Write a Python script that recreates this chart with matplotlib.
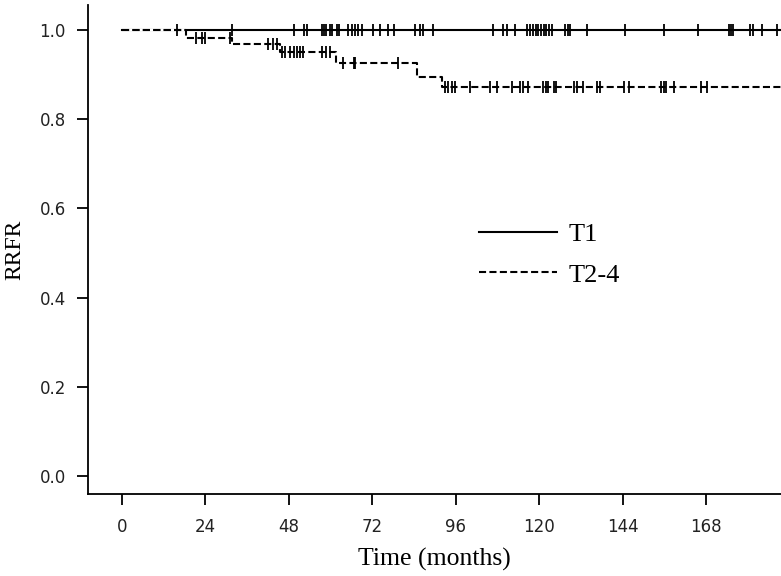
import numpy as np
import matplotlib
matplotlib.use("Agg")
import matplotlib.pyplot as plt
from matplotlib.lines import Line2D

# ---- data ----
t1_censor = [15.7, 31.6, 49.6, 52.3, 53.1, 57.5, 58.0, 58.8, 59.8, 60.4, 61.8, 62.5,
             65.1, 66.1, 67.1, 68.0, 69.0, 72.3, 74.3, 76.4, 78.3, 84.3, 85.7, 86.7,
             89.6, 106.8, 109.5, 110.9, 113.2, 116.5, 117.5, 118.3, 119.0, 119.8,
             120.5, 121.3, 122.0, 122.8, 123.6, 127.5, 128.2, 128.9, 133.7, 144.7,
             155.9, 165.8, 174.5, 175.2, 175.9, 180.7, 181.6, 184.1, 188.4]
t1_event_times = [0.0]
t1_surv = [1.0]

t24_event_times = [0.0, 18.4, 31.5, 45.5, 61.5, 85.0, 92.0]
t24_surv = [1.0, 0.983, 0.968, 0.951, 0.926, 0.895, 0.873]
t24_censor = [21.2, 22.9, 23.9, 31.0, 42.1, 43.5, 44.7, 46.0, 46.9, 48.3, 49.5, 50.3,
              51.2, 52.0, 57.5, 58.7, 59.9, 63.7, 66.6, 67.1, 79.5, 93.0, 93.9, 94.9,
              95.8, 100.1, 105.9, 107.8, 112.1, 114.5, 115.5, 116.9, 121.2, 122.0,
              122.7, 124.3, 125.0, 129.9, 130.8, 132.7, 136.8, 137.4, 144.5, 146.0,
              155.0, 155.8, 156.4, 158.9, 166.5, 168.2]
follow_end = 192.0

x_ticks = [0, 24, 48, 72, 96, 120, 144, 168]
y_ticks = [0.0, 0.2, 0.4, 0.6, 0.8, 1.0]
labels = ["T1", "T2-4"]

serif = ["Liberation Serif", "DejaVu Serif"]
sans = ["DejaVu Sans"]

fig = plt.figure(figsize=(7.81, 5.76), dpi=100)
ax = fig.add_axes([88 / 781, 1 - 494 / 576, 1 - 88 / 781, (494 - 5) / 576])


def step_xy(times, surv, end):
    x = list(times) + [end]
    y = list(surv) + [surv[-1]]
    return np.array(x), np.array(y)


def surv_at(times, surv, t):
    idx = np.searchsorted(np.array(times), np.array(t), side="right") - 1
    return np.array(surv)[idx]


lw = 1.5
x1, y1 = step_xy(t1_event_times, t1_surv, follow_end)
ax.step(x1, y1, where="post", color="black", lw=lw, zorder=2)
ax.plot(t1_censor, surv_at(t1_event_times, t1_surv, t1_censor), ls="none",
        marker="|", ms=8.5, mew=1.3, color="black", zorder=2)

x2, y2 = step_xy(t24_event_times, t24_surv, follow_end)
ax.step(x2, y2, where="post", color="black", lw=lw, ls=(0, (3.4, 1.6)),
        gapcolor="white", zorder=3)
ax.plot(t24_censor, surv_at(t24_event_times, t24_surv, t24_censor), ls="none",
        marker="|", ms=8.5, mew=1.3, color="black", zorder=4)

ax.set_xlim(-9.8, 189.6)
ax.set_ylim(-0.0404, 1.0561)
ax.set_xticks(x_ticks)
ax.set_yticks(y_ticks)
ax.set_yticklabels([f"{v:.1f}" for v in y_ticks])
for s in ["top", "right"]:
    ax.spines[s].set_visible(False)
for s in ["left", "bottom"]:
    ax.spines[s].set_linewidth(1.3)
ax.tick_params(axis="both", direction="out", length=8, width=1.3,
               labelsize=12, colors="black")
ax.tick_params(axis="y", pad=8)
ax.tick_params(axis="x", pad=9)
for lab in ax.get_xticklabels() + ax.get_yticklabels():
    lab.set_family(sans)
    lab.set_color("#222222")

ax.set_xlabel("Time (months)", family=serif, fontsize=18.5, labelpad=9)
ax.set_ylabel("RRFR", family=serif, fontsize=17, labelpad=10)

handles = [Line2D([], [], color="black", lw=lw),
           Line2D([], [], color="black", lw=lw, ls=(0, (3.4, 1.6)))]
leg = ax.legend(handles, labels, frameon=False, loc="upper left",
                bbox_to_anchor=((477 - 88) / 693 - 0.031, (494 - 213) / 489 + 0.029),
                prop={"family": serif, "size": 19}, handlelength=2.95,
                handletextpad=0.45, labelspacing=0.65)

fig.savefig("out.png", dpi=100)
